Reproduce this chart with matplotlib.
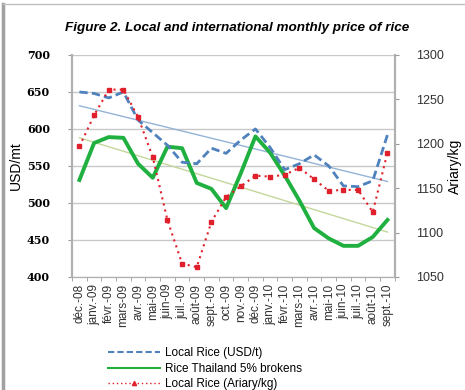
import numpy as np
import matplotlib
matplotlib.use("Agg")
import matplotlib.pyplot as plt
from matplotlib.lines import Line2D

months = ["déc.-08", "janv.-09", "févr.-09", "mars-09", "avr.-09", "mai-09", "juin-09",
          "juil.-09", "août-09", "sept.-09", "oct.-09", "nov.-09", "déc.-09", "janv.-10",
          "févr.-10", "mars-10", "avr.-10", "mai-10", "juin-10", "juil.-10", "août-10", "sept.-10"]
local_usd = [650, 648, 642, 650, 612, 595, 578, 555, 553, 574, 567, 585, 600, 575,
             545, 553, 565, 550, 523, 522, 530, 592]
thai = [531, 581, 589, 588, 553, 534, 576, 574, 527, 519, 493, 540, 590, 568,
        537, 503, 466, 452, 442, 442, 454, 477]
local_ariary = [1197, 1232, 1261, 1261, 1230, 1185, 1114, 1065, 1061, 1112, 1140, 1152,
                1164, 1163, 1165, 1173, 1160, 1147, 1148, 1148, 1123, 1190]
left_ticks = [400, 450, 500, 550, 600, 650, 700]
right_ticks = [1050, 1100, 1150, 1200, 1250, 1300]

fig = plt.figure(figsize=(4.65, 3.9), dpi=100)
ax = fig.add_axes([0.155, 0.290, 0.694, 0.569])
ax2 = ax.twinx()

x = np.arange(len(months))

# trend lines
pb = np.polyfit(x, local_usd, 1)
pg = np.polyfit(x, thai, 1)
ax.plot(x, np.polyval(pb, x), color="#95b3d7", lw=1.0, zorder=2)
ax.plot(x, np.polyval(pg, x), color="#c4d79b", lw=1.0, zorder=2)

ax.plot(x, local_usd, color="#4f81bd", lw=2.0, ls=(0, (3, 1.5)), zorder=4)
ax.plot(x, thai, color="#1fb040", lw=2.8, zorder=3)
ax2.plot(x, local_ariary, color="#e0202a", lw=1.5, ls=(0, (1, 2)),
         marker="s", ms=2.5, mec="#e0202a", mfc="#e0202a", zorder=5)

ax.set_xlim(-0.5, len(months) - 0.5)
ax.set_ylim(400, 700)
ax2.set_ylim(1050, 1300)
ax.set_yticks(left_ticks)
ax2.set_yticks(right_ticks)
ax.set_yticklabels([str(v) for v in left_ticks], fontsize=8, fontweight="bold",
                   family="DejaVu Serif")
ax2.set_yticklabels([str(v) for v in right_ticks], fontsize=9, family="Liberation Sans",
                    color="#333333")
for v in left_ticks:
    ax.axhline(v, color="#c8c8c8", lw=1.0, zorder=1)

ax.set_xticks(x)
ax.set_xticklabels(months, rotation=90, fontsize=8.5, family="Liberation Sans", color="#333333")
ax.set_xticks(np.arange(-0.5, len(months), 1), minor=True)
ax.tick_params(axis="x", which="major", length=0, pad=5)
ax.tick_params(axis="x", which="minor", length=3, color="#999999", direction="out")
ax.tick_params(axis="y", length=3, color="#999999", pad=13)
ax2.tick_params(axis="y", length=3, color="#999999", pad=12)

for a in (ax, ax2):
    a.spines["top"].set_visible(False)
    a.spines["left"].set_color("#b0b0b0")
    a.spines["right"].set_color("#b0b0b0")
    a.spines["bottom"].set_color("#b0b0b0")
    a.spines["left"].set_linewidth(1.5)
    a.spines["right"].set_linewidth(1.5)

fig.text(16 / 465, 0.575, "USD/mt", rotation=90, ha="center", va="center",
         fontsize=10, family="Liberation Sans")
ax2.set_ylabel("Ariary/kg", fontsize=10, family="Liberation Sans", labelpad=3)

fig.text(0.51, 0.928, "Figure 2. Local and international monthly price of rice",
         ha="center", va="center", fontsize=9.7, fontweight="bold", style="italic",
         family="Liberation Sans")

handles = [
    Line2D([], [], color="#4f81bd", lw=1.5, ls=(0, (3, 1.5))),
    Line2D([], [], color="#1fb040", lw=1.5),
    Line2D([], [], color="#e0202a", lw=1.0, ls=(0, (1, 2)), marker="^", ms=3),
]
labels = ["Local Rice (USD/t)", "Rice Thailand 5% brokens", "Local Rice (Ariary/kg)"]
fig.legend(handles, labels, loc="upper left", bbox_to_anchor=(0.232, 0.11),
           frameon=False, handlelength=4.4, handletextpad=0.4,
           labelspacing=0.3, borderaxespad=0, borderpad=0,
           prop={"family": "Liberation Sans", "size": 8.5})

# frame lines of the screenshot
fig.add_artist(Line2D([0.006, 0.006], [0, 0.99], color="#a0a0a0", lw=2.5,
                      transform=fig.transFigure))
fig.add_artist(Line2D([0.006, 1.0], [0.99, 0.99], color="#c0c0c0", lw=1.0,
                      transform=fig.transFigure))

fig.savefig("out.png", dpi=100)
